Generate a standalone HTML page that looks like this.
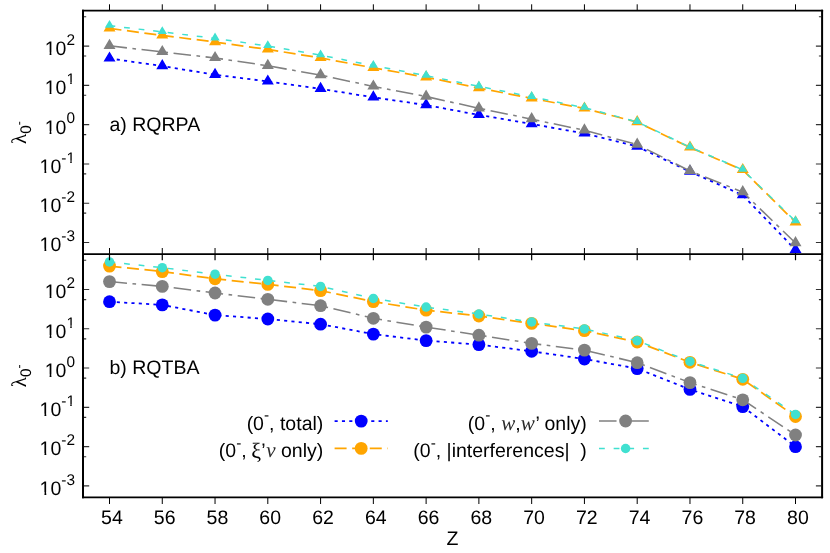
<!DOCTYPE html>
<html><head><meta charset="utf-8"><title>plot</title>
<style>html,body{margin:0;padding:0;background:#fff;overflow:hidden}svg{display:block;will-change:transform}text{text-rendering:geometricPrecision;font-family:"Liberation Sans",sans-serif;fill:#000}.s{font-family:"Liberation Serif",serif}.m{fill:#2a2a2a}</style>
</head><body>
<svg width="830" height="553" viewBox="0 0 830 553">
<rect width="830" height="553" fill="#fff"/>
<path d="M109.50 4.3V10.6M109.50 248V254.0M109.50 497.4V504M162.27 4.3V10.6M162.27 248V254.0M162.27 497.4V504M215.04 4.3V10.6M215.04 248V254.0M215.04 497.4V504M267.81 4.3V10.6M267.81 248V254.0M267.81 497.4V504M320.58 4.3V10.6M320.58 248V254.0M320.58 497.4V504M373.35 4.3V10.6M373.35 248V254.0M373.35 497.4V504M426.12 4.3V10.6M426.12 248V254.0M426.12 497.4V504M478.89 4.3V10.6M478.89 248V254.0M478.89 497.4V504M531.66 4.3V10.6M531.66 248V254.0M531.66 497.4V504M584.43 4.3V10.6M584.43 248V254.0M584.43 497.4V504M637.20 4.3V10.6M637.20 248V254.0M637.20 497.4V504M689.97 4.3V10.6M689.97 248V254.0M689.97 497.4V504M742.74 4.3V10.6M742.74 248V254.0M742.74 497.4V504M795.51 4.3V10.6M795.51 248V254.0M795.51 497.4V504" stroke="#000" stroke-width="1" fill="none"/>
<path d="M84.0 46.10h5.2M821.1 46.10h-5.2M84.0 289.50h5.2M821.1 289.50h-5.2M84.0 85.38h5.2M821.1 85.38h-5.2M84.0 328.78h5.2M821.1 328.78h-5.2M84.0 124.66h5.2M821.1 124.66h-5.2M84.0 368.06h5.2M821.1 368.06h-5.2M84.0 163.94h5.2M821.1 163.94h-5.2M84.0 407.34h5.2M821.1 407.34h-5.2M84.0 203.22h5.2M821.1 203.22h-5.2M84.0 446.62h5.2M821.1 446.62h-5.2M84.0 242.50h5.2M821.1 242.50h-5.2M84.0 485.90h5.2M821.1 485.90h-5.2M84.0 16.75h2.2M821.1 16.75h-2.2M84.0 260.30h2.2M821.1 260.30h-2.2M84.0 56.03h2.2M821.1 56.03h-2.2M84.0 299.58h2.2M821.1 299.58h-2.2M84.0 95.31h2.2M821.1 95.31h-2.2M84.0 338.86h2.2M821.1 338.86h-2.2M84.0 134.59h2.2M821.1 134.59h-2.2M84.0 378.14h2.2M821.1 378.14h-2.2M84.0 173.87h2.2M821.1 173.87h-2.2M84.0 417.42h2.2M821.1 417.42h-2.2M84.0 213.15h2.2M821.1 213.15h-2.2M84.0 456.70h2.2M821.1 456.70h-2.2" stroke="#333" stroke-width="1.1" fill="none"/>
<clipPath id="c1"><rect x="83" y="10" width="739" height="244.5"/></clipPath>
<g clip-path="url(#c1)">
<polyline points="109.50,58.45 162.27,66.05 215.04,74.75 267.81,81.45 320.58,88.85 373.35,97.35 426.12,105.05 478.89,114.95 531.66,124.05 584.43,133.35 637.20,146.55 689.97,171.65 742.74,195.15 795.51,249.85" fill="none" stroke="#0000ff" stroke-width="1.8" stroke-dasharray="3.1 4.23"/>
<path d="M109.50 51.40L103.50 61.60H115.50ZM162.27 59.00L156.27 69.20H168.27ZM215.04 67.70L209.04 77.90H221.04ZM267.81 74.40L261.81 84.60H273.81ZM320.58 81.80L314.58 92.00H326.58ZM373.35 90.30L367.35 100.50H379.35ZM426.12 98.00L420.12 108.20H432.12ZM478.89 107.90L472.89 118.10H484.89ZM531.66 117.00L525.66 127.20H537.66ZM584.43 126.30L578.43 136.50H590.43ZM637.20 139.50L631.20 149.70H643.20ZM689.97 164.60L683.97 174.80H695.97ZM742.74 188.10L736.74 198.30H748.74ZM795.51 242.80L789.51 253.00H801.51Z" fill="#0000ff"/>
<polyline points="109.50,28.45 162.27,35.35 215.04,42.05 267.81,49.45 320.58,57.95 373.35,67.85 426.12,77.25 478.89,88.05 531.66,98.35 584.43,108.45 637.20,122.15 689.97,147.45 742.74,169.95 795.51,222.25" fill="none" stroke="#ffa500" stroke-width="1.75" stroke-dasharray="12.0 5.58"/>
<path d="M109.50 21.40L103.50 31.60H115.50ZM162.27 28.30L156.27 38.50H168.27ZM215.04 35.00L209.04 45.20H221.04ZM267.81 42.40L261.81 52.60H273.81ZM320.58 50.90L314.58 61.10H326.58ZM373.35 60.80L367.35 71.00H379.35ZM426.12 70.20L420.12 80.40H432.12ZM478.89 81.00L472.89 91.20H484.89ZM531.66 91.30L525.66 101.50H537.66ZM584.43 101.40L578.43 111.60H590.43ZM637.20 115.10L631.20 125.30H643.20ZM689.97 140.40L683.97 150.60H695.97ZM742.74 162.90L736.74 173.10H748.74ZM795.51 215.20L789.51 225.40H801.51Z" fill="#ffa500"/>
<polyline points="109.50,45.85 162.27,51.95 215.04,57.95 267.81,65.75 320.58,75.15 373.35,86.45 426.12,96.55 478.89,108.25 531.66,119.15 584.43,130.25 637.20,144.55 689.97,170.95 742.74,192.05 795.51,243.05" fill="none" stroke="#808080" stroke-width="1.55" stroke-dasharray="17.55 5.5 3.65 5.54"/>
<path d="M109.50 38.80L103.50 49.00H115.50ZM162.27 44.90L156.27 55.10H168.27ZM215.04 50.90L209.04 61.10H221.04ZM267.81 58.70L261.81 68.90H273.81ZM320.58 68.10L314.58 78.30H326.58ZM373.35 79.40L367.35 89.60H379.35ZM426.12 89.50L420.12 99.70H432.12ZM478.89 101.20L472.89 111.40H484.89ZM531.66 112.10L525.66 122.30H537.66ZM584.43 123.20L578.43 133.40H590.43ZM637.20 137.50L631.20 147.70H643.20ZM689.97 163.90L683.97 174.10H695.97ZM742.74 185.00L736.74 195.20H748.74ZM795.51 236.00L789.51 246.20H801.51Z" fill="#808080"/>
<polyline points="109.50,25.65 162.27,31.95 215.04,38.35 267.81,46.05 320.58,55.15 373.35,65.65 426.12,75.65 478.89,86.35 531.66,96.85 584.43,107.75 637.20,121.85 689.97,147.15 742.74,169.75 795.51,221.25" fill="none" stroke="#40e0d0" stroke-width="1.5" stroke-dasharray="5.8 8.85"/>
<path d="M109.50 19.90L104.80 27.70H114.20ZM162.27 26.20L157.57 34.00H166.97ZM215.04 32.60L210.34 40.40H219.74ZM267.81 40.30L263.11 48.10H272.51ZM320.58 49.40L315.88 57.20H325.28ZM373.35 59.90L368.65 67.70H378.05ZM426.12 69.90L421.42 77.70H430.82ZM478.89 80.60L474.19 88.40H483.59ZM531.66 91.10L526.96 98.90H536.36ZM584.43 102.00L579.73 109.80H589.13ZM637.20 116.10L632.50 123.90H641.90ZM689.97 141.40L685.27 149.20H694.67ZM742.74 164.00L738.04 171.80H747.44ZM795.51 215.50L790.81 223.30H800.21Z" fill="#40e0d0"/>
</g>
<polyline points="109.50,301.70 162.27,304.90 215.04,315.10 267.81,319.00 320.58,324.20 373.35,334.10 426.12,340.60 478.89,344.60 531.66,351.30 584.43,359.00 637.20,368.60 689.97,389.40 742.74,406.60 795.51,446.70" fill="none" stroke="#0000ff" stroke-width="1.8" stroke-dasharray="3.1 4.23"/>
<circle cx="109.50" cy="301.70" r="6.4" fill="#0000ff"/>
<circle cx="162.27" cy="304.90" r="6.4" fill="#0000ff"/>
<circle cx="215.04" cy="315.10" r="6.4" fill="#0000ff"/>
<circle cx="267.81" cy="319.00" r="6.4" fill="#0000ff"/>
<circle cx="320.58" cy="324.20" r="6.4" fill="#0000ff"/>
<circle cx="373.35" cy="334.10" r="6.4" fill="#0000ff"/>
<circle cx="426.12" cy="340.60" r="6.4" fill="#0000ff"/>
<circle cx="478.89" cy="344.60" r="6.4" fill="#0000ff"/>
<circle cx="531.66" cy="351.30" r="6.4" fill="#0000ff"/>
<circle cx="584.43" cy="359.00" r="6.4" fill="#0000ff"/>
<circle cx="637.20" cy="368.60" r="6.4" fill="#0000ff"/>
<circle cx="689.97" cy="389.40" r="6.4" fill="#0000ff"/>
<circle cx="742.74" cy="406.60" r="6.4" fill="#0000ff"/>
<circle cx="795.51" cy="446.70" r="6.4" fill="#0000ff"/>
<polyline points="109.50,266.10 162.27,271.60 215.04,278.80 267.81,284.40 320.58,290.60 373.35,301.60 426.12,310.20 478.89,316.00 531.66,323.40 584.43,330.70 637.20,342.00 689.97,362.30 742.74,379.30 795.51,416.50" fill="none" stroke="#ffa500" stroke-width="1.75" stroke-dasharray="12.0 5.58"/>
<circle cx="109.50" cy="266.10" r="6.4" fill="#ffa500"/>
<circle cx="162.27" cy="271.60" r="6.4" fill="#ffa500"/>
<circle cx="215.04" cy="278.80" r="6.4" fill="#ffa500"/>
<circle cx="267.81" cy="284.40" r="6.4" fill="#ffa500"/>
<circle cx="320.58" cy="290.60" r="6.4" fill="#ffa500"/>
<circle cx="373.35" cy="301.60" r="6.4" fill="#ffa500"/>
<circle cx="426.12" cy="310.20" r="6.4" fill="#ffa500"/>
<circle cx="478.89" cy="316.00" r="6.4" fill="#ffa500"/>
<circle cx="531.66" cy="323.40" r="6.4" fill="#ffa500"/>
<circle cx="584.43" cy="330.70" r="6.4" fill="#ffa500"/>
<circle cx="637.20" cy="342.00" r="6.4" fill="#ffa500"/>
<circle cx="689.97" cy="362.30" r="6.4" fill="#ffa500"/>
<circle cx="742.74" cy="379.30" r="6.4" fill="#ffa500"/>
<circle cx="795.51" cy="416.50" r="6.4" fill="#ffa500"/>
<polyline points="109.50,281.60 162.27,286.40 215.04,293.00 267.81,299.30 320.58,305.70 373.35,318.30 426.12,327.10 478.89,335.20 531.66,343.40 584.43,350.10 637.20,362.70 689.97,382.60 742.74,399.80 795.51,435.00" fill="none" stroke="#808080" stroke-width="1.55" stroke-dasharray="17.55 5.5 3.65 5.54"/>
<circle cx="109.50" cy="281.60" r="6.4" fill="#808080"/>
<circle cx="162.27" cy="286.40" r="6.4" fill="#808080"/>
<circle cx="215.04" cy="293.00" r="6.4" fill="#808080"/>
<circle cx="267.81" cy="299.30" r="6.4" fill="#808080"/>
<circle cx="320.58" cy="305.70" r="6.4" fill="#808080"/>
<circle cx="373.35" cy="318.30" r="6.4" fill="#808080"/>
<circle cx="426.12" cy="327.10" r="6.4" fill="#808080"/>
<circle cx="478.89" cy="335.20" r="6.4" fill="#808080"/>
<circle cx="531.66" cy="343.40" r="6.4" fill="#808080"/>
<circle cx="584.43" cy="350.10" r="6.4" fill="#808080"/>
<circle cx="637.20" cy="362.70" r="6.4" fill="#808080"/>
<circle cx="689.97" cy="382.60" r="6.4" fill="#808080"/>
<circle cx="742.74" cy="399.80" r="6.4" fill="#808080"/>
<circle cx="795.51" cy="435.00" r="6.4" fill="#808080"/>
<polyline points="109.50,261.90 162.27,267.70 215.04,274.20 267.81,280.40 320.58,286.40 373.35,298.40 426.12,307.10 478.89,314.00 531.66,322.00 584.43,328.90 637.20,340.70 689.97,361.40 742.74,378.30 795.51,414.50" fill="none" stroke="#40e0d0" stroke-width="1.5" stroke-dasharray="5.8 8.85"/>
<circle cx="109.50" cy="261.90" r="4.75" fill="#40e0d0"/>
<circle cx="162.27" cy="267.70" r="4.75" fill="#40e0d0"/>
<circle cx="215.04" cy="274.20" r="4.75" fill="#40e0d0"/>
<circle cx="267.81" cy="280.40" r="4.75" fill="#40e0d0"/>
<circle cx="320.58" cy="286.40" r="4.75" fill="#40e0d0"/>
<circle cx="373.35" cy="298.40" r="4.75" fill="#40e0d0"/>
<circle cx="426.12" cy="307.10" r="4.75" fill="#40e0d0"/>
<circle cx="478.89" cy="314.00" r="4.75" fill="#40e0d0"/>
<circle cx="531.66" cy="322.00" r="4.75" fill="#40e0d0"/>
<circle cx="584.43" cy="328.90" r="4.75" fill="#40e0d0"/>
<circle cx="637.20" cy="340.70" r="4.75" fill="#40e0d0"/>
<circle cx="689.97" cy="361.40" r="4.75" fill="#40e0d0"/>
<circle cx="742.74" cy="378.30" r="4.75" fill="#40e0d0"/>
<circle cx="795.51" cy="414.50" r="4.75" fill="#40e0d0"/>
<path d="M109.50 254.0V260.2M162.27 254.0V260.2M215.04 254.0V260.2M267.81 254.0V260.2M320.58 254.0V260.2M373.35 254.0V260.2M426.12 254.0V260.2M478.89 254.0V260.2M531.66 254.0V260.2M584.43 254.0V260.2M637.20 254.0V260.2M689.97 254.0V260.2M742.74 254.0V260.2M795.51 254.0V260.2" stroke="#000" stroke-width="1.2" fill="none"/>
<path d="M334.6 421.1h53.2" fill="none" stroke="#0000ff" stroke-width="1.8" stroke-dasharray="3.1 4.23"/>
<circle cx="361.20000000000005" cy="421.1" r="6.4" fill="#0000ff"/>
<path d="M334.6 448.4h53.2" fill="none" stroke="#ffa500" stroke-width="1.75" stroke-dasharray="12.0 5.58"/>
<circle cx="361.20000000000005" cy="448.4" r="6.4" fill="#ffa500"/>
<path d="M599.0 421.0h53.2" fill="none" stroke="#808080" stroke-width="1.55" stroke-dasharray="17.55 5.5 3.65 5.54"/>
<circle cx="625.6" cy="421.0" r="6.4" fill="#808080"/>
<path d="M599.0 448.5h53.2" fill="none" stroke="#40e0d0" stroke-width="1.5" stroke-dasharray="5.8 8.85"/>
<circle cx="625.6" cy="448.5" r="4.75" fill="#40e0d0"/>
<path d="M83.0 9.725V498.275M822.1 9.725V498.275" stroke="#000" stroke-width="2.0" fill="none"/>
<path d="M82.0 10.6H823.1M82.0 254.0H823.1M82.0 497.4H823.1" stroke="#000" stroke-width="1.75" fill="none"/>
<text x="44.75" y="54.9" font-size="19.5">10<tspan x="66.44" dy="-10.1" font-size="15.4">2</tspan></text>
<text x="44.75" y="298.3" font-size="19.5">10<tspan x="66.44" dy="-10.1" font-size="15.4">2</tspan></text>
<text x="44.75" y="94.2" font-size="19.5">10<tspan x="66.44" dy="-10.1" font-size="15.4">1</tspan></text>
<text x="44.75" y="337.6" font-size="19.5">10<tspan x="66.44" dy="-10.1" font-size="15.4">1</tspan></text>
<text x="44.75" y="133.5" font-size="19.5">10<tspan x="66.44" dy="-10.1" font-size="15.4">0</tspan></text>
<text x="44.75" y="376.9" font-size="19.5">10<tspan x="66.44" dy="-10.1" font-size="15.4">0</tspan></text>
<text x="39.62" y="172.7" font-size="19.5">10<tspan x="61.31" dy="-10.1" font-size="15.4">-1</tspan></text>
<text x="39.62" y="416.1" font-size="19.5">10<tspan x="61.31" dy="-10.1" font-size="15.4">-1</tspan></text>
<text x="39.62" y="212.0" font-size="19.5">10<tspan x="61.31" dy="-10.1" font-size="15.4">-2</tspan></text>
<text x="39.62" y="455.4" font-size="19.5">10<tspan x="61.31" dy="-10.1" font-size="15.4">-2</tspan></text>
<text x="39.62" y="251.3" font-size="19.5">10<tspan x="61.31" dy="-10.1" font-size="15.4">-3</tspan></text>
<text x="39.62" y="494.7" font-size="19.5">10<tspan x="61.31" dy="-10.1" font-size="15.4">-3</tspan></text>
<path d="M45.14 52.44H49.60V55.90H45.14ZM51.42 52.44H55.67V55.90H51.42ZM45.14 295.84H49.60V299.30H45.14ZM51.42 295.84H55.67V299.30H51.42ZM45.14 91.72H49.60V95.18H45.14ZM51.42 91.72H55.67V95.18H51.42ZM66.74 81.93H70.26V85.08H66.74ZM71.72 81.93H75.06V85.08H71.72ZM45.14 335.12H49.60V338.58H45.14ZM51.42 335.12H55.67V338.58H51.42ZM66.74 325.33H70.26V328.48H66.74ZM71.72 325.33H75.06V328.48H71.72ZM45.14 131.00H49.60V134.46H45.14ZM51.42 131.00H55.67V134.46H51.42ZM45.14 374.40H49.60V377.86H45.14ZM51.42 374.40H55.67V377.86H51.42ZM40.01 170.28H44.47V173.74H40.01ZM46.29 170.28H50.54V173.74H46.29ZM66.74 160.49H70.26V163.64H66.74ZM71.72 160.49H75.06V163.64H71.72ZM40.01 413.68H44.47V417.14H40.01ZM46.29 413.68H50.54V417.14H46.29ZM66.74 403.89H70.26V407.04H66.74ZM71.72 403.89H75.06V407.04H71.72ZM40.01 209.56H44.47V213.02H40.01ZM46.29 209.56H50.54V213.02H46.29ZM40.01 452.96H44.47V456.42H40.01ZM46.29 452.96H50.54V456.42H46.29ZM40.01 248.84H44.47V252.30H40.01ZM46.29 248.84H50.54V252.30H46.29ZM40.01 492.24H44.47V495.70H40.01ZM46.29 492.24H50.54V495.70H46.29Z" fill="#fff"/>
<text x="111.9" y="523.7" text-anchor="middle" font-size="19.5">54</text>
<text x="164.7" y="523.7" text-anchor="middle" font-size="19.5">56</text>
<text x="217.4" y="523.7" text-anchor="middle" font-size="19.5">58</text>
<text x="270.2" y="523.7" text-anchor="middle" font-size="19.5">60</text>
<text x="323.0" y="523.7" text-anchor="middle" font-size="19.5">62</text>
<text x="375.8" y="523.7" text-anchor="middle" font-size="19.5">64</text>
<text x="428.5" y="523.7" text-anchor="middle" font-size="19.5">66</text>
<text x="481.3" y="523.7" text-anchor="middle" font-size="19.5">68</text>
<text x="534.1" y="523.7" text-anchor="middle" font-size="19.5">70</text>
<text x="586.8" y="523.7" text-anchor="middle" font-size="19.5">72</text>
<text x="639.6" y="523.7" text-anchor="middle" font-size="19.5">74</text>
<text x="692.4" y="523.7" text-anchor="middle" font-size="19.5">76</text>
<text x="745.1" y="523.7" text-anchor="middle" font-size="19.5">78</text>
<text x="797.9" y="523.7" text-anchor="middle" font-size="19.5">80</text>
<text x="452.4" y="544.8" text-anchor="middle" font-size="19.5">Z</text>
<text x="109.5" y="131" font-size="19.5">a) RQRPA</text>
<text x="109.5" y="374.4" font-size="19.5">b) RQTBA</text>
<g transform="translate(25.9 143.9) rotate(-90)"><text x="0" y="0" font-size="19.5"><tspan class="s" font-size="21">λ</tspan><tspan dy="5.1" font-size="15.4">0</tspan><tspan dy="-8.3" font-size="12.5">-</tspan></text></g>
<g transform="translate(25.9 387.3) rotate(-90)"><text x="0" y="0" font-size="19.5"><tspan class="s" font-size="21">λ</tspan><tspan dy="5.1" font-size="15.4">0</tspan><tspan dy="-8.3" font-size="12.5">-</tspan></text></g>
<text x="323.3" y="430" text-anchor="end" font-size="19.5">(0<tspan dy="-9.6" font-size="15.4">-</tspan><tspan dy="9.6">, total)</tspan></text>
<text x="323.3" y="457.3" text-anchor="end" font-size="19.5">(0<tspan dy="-9.6" font-size="15.4">-</tspan><tspan dy="9.6">, </tspan><tspan class="s" dx="-0.8" dy="0.8" font-size="22">ξ</tspan><tspan dy="-0.8">’</tspan><tspan class="s m" dx="0.8" font-style="italic" font-size="21">v</tspan> only)</text>
<text x="586.8" y="430" text-anchor="end" font-size="19.5">(0<tspan dy="-9.6" font-size="15.4">-</tspan><tspan dy="9.6">, </tspan><tspan class="s m" font-style="italic" font-size="21" letter-spacing="0.2">w</tspan>,<tspan class="s m" font-style="italic" font-size="21" letter-spacing="0.7">w</tspan>’ only)</text>
<text x="586.8" y="457.3" text-anchor="end" font-size="19.5" xml:space="preserve">(0<tspan dy="-9.6" font-size="15.4">-</tspan><tspan dy="9.6">, |interferences|  )</tspan></text>
</svg></body></html>
